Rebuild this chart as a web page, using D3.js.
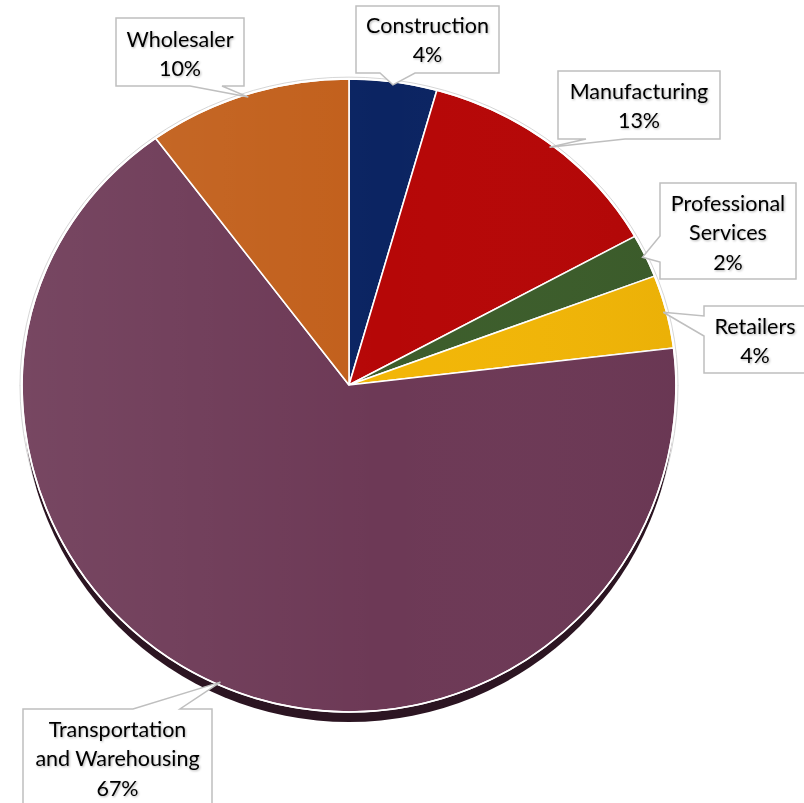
<!DOCTYPE html>
<html><head><meta charset="utf-8">
<script src="https://cdn.jsdelivr.net/npm/d3@7"></script>
<style>html,body{margin:0;padding:0;background:#fff;} svg{display:block;}</style>
</head><body>
<svg id="chart" width="804" height="803"></svg>
<script>
// ---- data ----
const categories = ["Construction","Manufacturing","Professional Services","Retailers","Transportation and Warehousing","Wholesaler"];
const labelNames = [["Construction"],["Manufacturing"],["Professional","Services"],["Retailers"],["Transportation","and Warehousing"],["Wholesaler"]];
const values = [4.33, 12.6, 2.28, 3.86, 66.86, 10.07];
const colors = ["#0b2462","#b60707","#3c5d2b","#f2b607","#6d3956","#c2601c"];

// ---- layout ----
const W = 804, H = 803;
const cx = 349, cy = 385, R = 327, topScale = 306/327;
const callouts = [
  {box:[356,6,499,73],   side:"bottom", base:[380,415], y0:33},
  {box:[558,71,720,139], side:"bottom", base:[586,625], y0:99},
  {box:[660,183,796,279],side:"left",   base:[236,262], y0:211},
  {box:[704,306,806,373],side:"left",   base:[316,336], y0:334},
  {box:[23,709,212,815], side:"top",    base:[133,180], y0:737},
  {box:[116,18,244,86],  side:"bottom", base:[190,222], y0:47}
];
const lineH = 29.3;

const svg = d3.select("#chart");
const defs = svg.append("defs");
const grad = defs.append("linearGradient").attr("id","sheen").attr("x1",0).attr("x2",1).attr("y1",0).attr("y2",0);
grad.append("stop").attr("offset","0%").attr("stop-color","#fff").attr("stop-opacity",0.07);
grad.append("stop").attr("offset","55%").attr("stop-color","#fff").attr("stop-opacity",0);
grad.append("stop").attr("offset","100%").attr("stop-color","#000").attr("stop-opacity",0.03);
defs.append("clipPath").attr("id","clipTop").append("rect").attr("x",0).attr("y",0).attr("width",W).attr("height",cy+0.5);
defs.append("clipPath").attr("id","clipBot").append("rect").attr("x",0).attr("y",cy).attr("width",W).attr("height",H-cy);
const f = defs.append("filter").attr("id","tshadow").attr("x","-10%").attr("y","-20%").attr("width","130%").attr("height","150%");
f.append("feDropShadow").attr("dx",1).attr("dy",1).attr("stdDeviation",0.8).attr("flood-color","#000").attr("flood-opacity",0.3);

const pie = d3.pie().sort(null).value(d => d);
const arcs = pie(values);
const arc = d3.arc().innerRadius(0).outerRadius(R);
const total = d3.sum(values);
const pct = d3.format(".0%");

function drawHalf(clipId, sy, shadow) {
  const outer = svg.append("g").attr("clip-path", `url(#${clipId})`);
  const g = outer.append("g").attr("transform", `translate(${cx},${cy}) scale(1,${sy})`);
  g.append("circle").attr("r", R + 2).attr("fill", "none").attr("stroke", "#d4d4d4").attr("stroke-width", 1);
  if (shadow) g.append("circle").attr("cx", 0).attr("cy", 11).attr("r", R - 1).attr("fill", "#2c1522");
  g.selectAll("path.slice").data(arcs).join("path").attr("class","slice")
    .attr("d", arc).attr("fill", (d,i) => colors[i])
    .attr("stroke", "#fff").attr("stroke-width", 1.6).attr("stroke-linejoin","round");
  g.append("circle").attr("r", R).attr("fill", "url(#sheen)");
  g.append("circle").attr("r", R).attr("fill", "none").attr("stroke", "#fff").attr("stroke-width", 1.6);
}
drawHalf("clipTop", topScale, false);
drawHalf("clipBot", 1, true);

function tipOf(d) {
  const a = (d.startAngle + d.endAngle) / 2;
  const r = R * 0.99;
  const x = cx + r * Math.sin(a);
  const dy = -r * Math.cos(a);
  const y = cy + (dy < 0 ? dy * topScale : dy);
  return [x, y];
}

function calloutPath(c, tip) {
  const [x0,y0,x1,y1] = c.box, [b0,b1] = c.base;
  const p = [[x0,y0]];
  if (c.side === "top") p.push([b0,y0], tip, [b1,y0]);
  p.push([x1,y0],[x1,y1]);
  if (c.side === "bottom") p.push([b1,y1], tip, [b0,y1]);
  p.push([x0,y1]);
  if (c.side === "left") p.push([x0,b1], tip, [x0,b0]);
  return d3.line()(p) + "Z";
}

const lab = svg.append("g");
arcs.forEach((d, i) => {
  const c = callouts[i];
  lab.append("path").attr("d", calloutPath(c, tipOf(d)))
    .attr("fill", "#fff").attr("stroke", "#bfbfbf").attr("stroke-width", 1.5).attr("stroke-linejoin","miter");
  const lines = labelNames[i].concat([pct(values[i] / total)]);
  const t = lab.append("text").attr("text-anchor", "middle")
    .attr("font-family", "Lato, 'Open Sans', sans-serif").attr("font-size", 21.5)
    .attr("fill", "#000").attr("filter", "url(#tshadow)");
  const xm = (c.box[0] + c.box[2]) / 2;
  lines.forEach((s, k) => t.append("tspan").attr("x", xm).attr("y", c.y0 + k * lineH).text(s));
});
</script>
</body></html>
